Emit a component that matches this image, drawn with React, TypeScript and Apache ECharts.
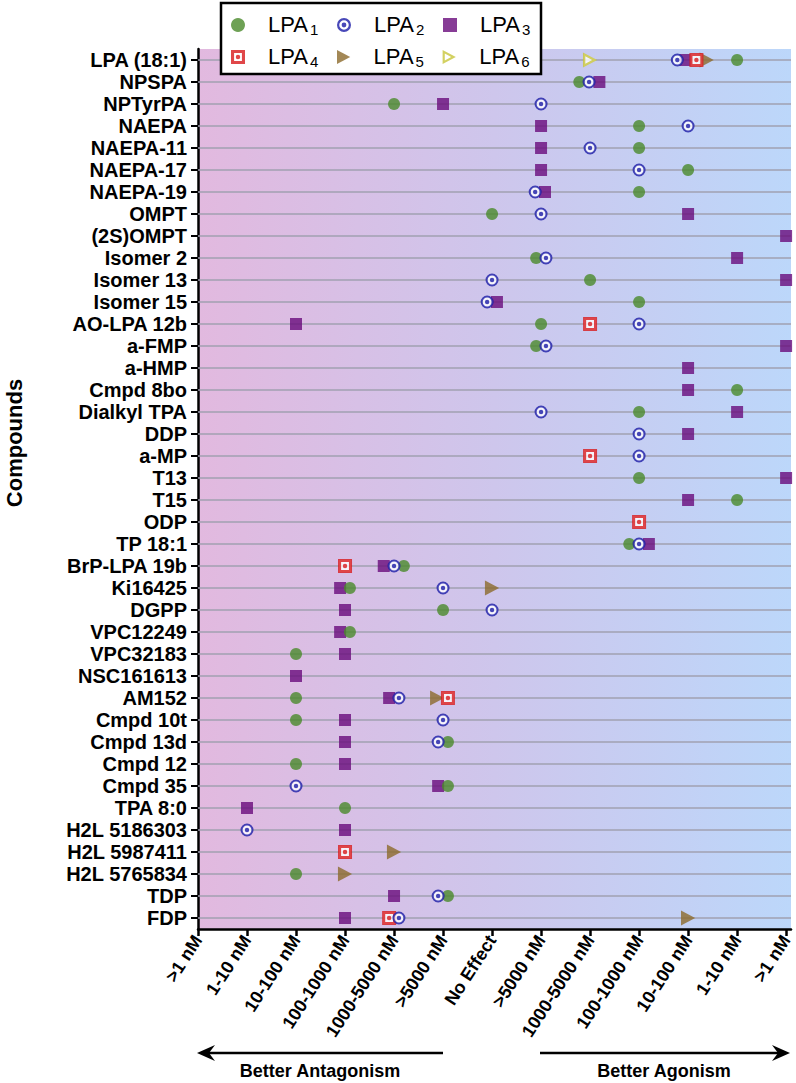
import React, { useEffect, useRef } from "react";
import * as echarts from "echarts";

const compounds = [
  "LPA (18:1)", "NPSPA", "NPTyrPA", "NAEPA", "NAEPA-11", "NAEPA-17", "NAEPA-19", "OMPT",
  "(2S)OMPT", "Isomer 2", "Isomer 13", "Isomer 15", "AO-LPA 12b", "a-FMP", "a-HMP", "Cmpd 8bo",
  "Dialkyl TPA", "DDP", "a-MP", "T13", "T15", "ODP", "TP 18:1", "BrP-LPA 19b", "Ki16425", "DGPP",
  "VPC12249", "VPC32183", "NSC161613", "AM152", "Cmpd 10t", "Cmpd 13d", "Cmpd 12", "Cmpd 35",
  "TPA 8:0", "H2L 5186303", "H2L 5987411", "H2L 5765834", "TDP", "FDP",
];

const xLabels = [
  ">1 nM", "1-10 nM", "10-100 nM", "100-1000 nM", "1000-5000 nM", ">5000 nM", "No Effect",
  ">5000 nM", "1000-5000 nM", "100-1000 nM", "10-100 nM", "1-10 nM", ">1 nM",
];

// [compound, position on the activity scale]
const lpa1: [string, number][] = [
  ["LPA (18:1)", 11], ["NPSPA", 7.78], ["NPTyrPA", 4], ["NAEPA", 9], ["NAEPA-11", 9], ["NAEPA-17", 10],
  ["NAEPA-19", 9], ["OMPT", 6], ["Isomer 2", 6.9], ["Isomer 13", 8], ["Isomer 15", 9], ["AO-LPA 12b", 7],
  ["a-FMP", 6.9], ["Cmpd 8bo", 11], ["Dialkyl TPA", 9], ["T13", 9], ["T15", 11], ["TP 18:1", 8.8],
  ["BrP-LPA 19b", 4.2], ["Ki16425", 3.1], ["DGPP", 5], ["VPC12249", 3.1], ["VPC32183", 2], ["AM152", 2],
  ["Cmpd 10t", 2], ["Cmpd 13d", 5.1], ["Cmpd 12", 2], ["Cmpd 35", 5.1], ["TPA 8:0", 3], ["H2L 5765834", 2],
  ["TDP", 5.1],
];
const lpa2: [string, number][] = [
  ["LPA (18:1)", 9.78], ["NPSPA", 7.98], ["NPTyrPA", 7], ["NAEPA", 10], ["NAEPA-11", 8], ["NAEPA-17", 9],
  ["NAEPA-19", 6.88], ["OMPT", 7], ["Isomer 2", 7.1], ["Isomer 13", 6], ["Isomer 15", 5.9], ["AO-LPA 12b", 9],
  ["a-FMP", 7.1], ["Dialkyl TPA", 7], ["DDP", 9], ["a-MP", 9], ["TP 18:1", 9], ["BrP-LPA 19b", 4],
  ["Ki16425", 5], ["DGPP", 6], ["AM152", 4.1], ["Cmpd 10t", 5], ["Cmpd 13d", 4.9], ["Cmpd 35", 2],
  ["H2L 5186303", 1], ["TDP", 4.9], ["FDP", 4.1],
];
const lpa3: [string, number][] = [
  ["LPA (18:1)", 9.95], ["NPSPA", 8.19], ["NPTyrPA", 5], ["NAEPA", 7], ["NAEPA-11", 7], ["NAEPA-17", 7],
  ["NAEPA-19", 7.08], ["OMPT", 10], ["(2S)OMPT", 12], ["Isomer 2", 11], ["Isomer 13", 12], ["Isomer 15", 6.1],
  ["AO-LPA 12b", 2], ["a-FMP", 12], ["a-HMP", 10], ["Cmpd 8bo", 10], ["Dialkyl TPA", 11], ["DDP", 10],
  ["T13", 12], ["T15", 10], ["TP 18:1", 9.2], ["BrP-LPA 19b", 3.79], ["Ki16425", 2.9], ["DGPP", 3],
  ["VPC12249", 2.9], ["VPC32183", 3], ["NSC161613", 2], ["AM152", 3.9], ["Cmpd 10t", 3], ["Cmpd 13d", 3],
  ["Cmpd 12", 3], ["Cmpd 35", 4.9], ["TPA 8:0", 1], ["H2L 5186303", 3], ["TDP", 4], ["FDP", 3],
];
const lpa4: [string, number][] = [
  ["LPA (18:1)", 10.17], ["AO-LPA 12b", 8], ["a-MP", 8], ["ODP", 9], ["BrP-LPA 19b", 3], ["AM152", 5.1],
  ["H2L 5987411", 3], ["FDP", 3.9],
];
const lpa5: [string, number][] = [
  ["LPA (18:1)", 10.38], ["Ki16425", 6], ["AM152", 4.88], ["H2L 5987411", 4], ["H2L 5765834", 3], ["FDP", 10],
];
const lpa6: [string, number][] = [["LPA (18:1)", 8]];

const tickValues = [0, 1, 2, 3, 4, 5, 6, 7, 8, 9, 10, 11, 12];
const X_MAX = 12.1;

const FONT = '"Liberation Sans", Arial, Helvetica, sans-serif';
const GREEN = "#4a8a2b";
const BLUE = "#1a1aa6";
const PURPLE = "#690b7c";
const RED = "#d8191c";
const BROWN = "#8c6a2c";
const YELLOW = "#c8c53a";

const RING =
  "path://M50,0 A50,50 0 1,1 50,100 A50,50 0 1,1 50,0 Z M50,16 A34,34 0 1,0 50,84 A34,34 0 1,0 50,16 Z M50,33 A17,17 0 1,1 50,67 A17,17 0 1,1 50,33 Z";
const SQRING =
  "path://M0,0 L100,0 L100,100 L0,100 Z M22,22 L22,78 L78,78 L78,22 Z M50,34 A16,16 0 1,1 50,66 A16,16 0 1,1 50,34 Z";
const TRI = "path://M10,5 L95,50 L10,95 Z";
const HOLLOW_TRI = "path://M10,5 L95,50 L10,95 Z M24,28 L24,72 L65,50 Z";

const toData = (arr: [string, number][]) => arr.map(([c, v]) => [v, c]);

export default function App() {
  const ref = useRef<HTMLDivElement>(null);
  useEffect(() => {
    if (!ref.current) return;
    const chart = echarts.init(ref.current, null, { renderer: "svg" });

    const legendCommon = {
      left: 231,
      orient: "horizontal",
      padding: 0,
      itemGap: 17,
      itemWidth: 14,
      itemHeight: 14,
      selectedMode: false,
      z: 10,
      formatter: (name: string) => `{sp|}{a|LPA}{s|${name.replace("LPA", "")}}`,
      textStyle: {
        color: "#000",
        fontFamily: FONT,
        rich: {
          sp: { width: 18, lineHeight: 24 },
          a: { fontSize: 22, lineHeight: 20, verticalAlign: "top", width: 42, fontFamily: FONT, color: "#000" },
          s: { fontSize: 15, lineHeight: 14, verticalAlign: "bottom", width: 10, fontFamily: FONT, color: "#000" },
        },
      },
    };

    const option: any = {
      animation: false,
      textStyle: { fontFamily: FONT },
      grid: {
        left: 198,
        right: 5,
        top: 49,
        height: 880,
        show: true,
        borderWidth: 0,
        backgroundColor: new echarts.graphic.LinearGradient(0, 0, 1, 0, [
          { offset: 0, color: "#e2b9df" },
          { offset: 0.5, color: "#cec6ec" },
          { offset: 1, color: "#bcd7fa" },
        ]),
      },
      legend: [
        { ...legendCommon, top: 13, data: ["LPA1", "LPA2", "LPA3"] },
        { ...legendCommon, top: 45, data: ["LPA4", "LPA5", "LPA6"] },
      ],
      xAxis: {
        type: "value",
        min: 0,
        max: X_MAX,
        interval: 1,
        axisLine: { show: true, lineStyle: { color: "#000", width: 2.5 } },
        axisTick: { show: true, length: 7, customValues: tickValues, lineStyle: { color: "#000", width: 2.5 } },
        axisLabel: {
          customValues: tickValues,
          rotate: 57,
          margin: 8,
          formatter: (v: number) => xLabels[Math.round(v)] ?? "",
          fontWeight: "bold",
          fontSize: 18,
          color: "#000",
          fontFamily: FONT,
        },
        splitLine: { show: false },
      },
      yAxis: {
        type: "category",
        data: compounds,
        inverse: true,
        axisLine: { show: true, lineStyle: { color: "#000", width: 2.5 } },
        axisTick: { show: true, alignWithLabel: true, length: 7, lineStyle: { color: "#000", width: 2 } },
        axisLabel: { interval: 0, margin: 11, fontWeight: "bold", fontSize: 20, color: "#000", fontFamily: FONT },
        splitLine: { show: false },
      },
      graphic: [
        {
          type: "rect",
          z: 8,
          shape: { x: 221, y: 3, width: 320, height: 71 },
          style: { fill: "#fff", stroke: "#000", lineWidth: 2.5 },
        },
        {
          type: "text",
          x: 14,
          y: 443,
          rotation: Math.PI / 2,
          style: { text: "Compounds", font: `bold 22px ${FONT}`, fill: "#000", align: "center", verticalAlign: "middle" },
        },
        { type: "line", shape: { x1: 206, y1: 1053, x2: 443, y2: 1053 }, style: { stroke: "#000", lineWidth: 2.5 } },
        { type: "polygon", shape: { points: [[197, 1053], [215, 1045], [209, 1053], [215, 1061]] }, style: { fill: "#000" } },
        { type: "line", shape: { x1: 540, y1: 1053, x2: 781, y2: 1053 }, style: { stroke: "#000", lineWidth: 2.5 } },
        { type: "polygon", shape: { points: [[790, 1053], [772, 1045], [778, 1053], [772, 1061]] }, style: { fill: "#000" } },
        {
          type: "text",
          x: 320,
          y: 1071,
          style: { text: "Better Antagonism", font: `bold 18px ${FONT}`, fill: "#000", align: "center", verticalAlign: "middle" },
        },
        {
          type: "text",
          x: 664,
          y: 1071,
          style: { text: "Better Agonism", font: `bold 18px ${FONT}`, fill: "#000", align: "center", verticalAlign: "middle" },
        },
      ],
      series: [
        {
          type: "custom",
          silent: true,
          z: 1,
          encode: { x: 0, y: 1 },
          data: compounds.map((c, i) => [0, i]),
          renderItem: (params: any, api: any) => {
            const y = api.value(1);
            const a = api.coord([0, y]);
            const b = api.coord([X_MAX, y]);
            return {
              type: "line",
              shape: { x1: a[0], y1: a[1], x2: b[0], y2: b[1] },
              style: { stroke: "#a0a0b0", lineWidth: 1.5 },
            };
          },
        },
        {
          name: "LPA5",
          type: "scatter",
          z: 2,
          symbol: TRI,
          symbolKeepAspect: true,
          symbolSize: 15,
          itemStyle: { color: BROWN },
          data: toData(lpa5),
        },
        {
          name: "LPA3",
          type: "scatter",
          z: 2,
          symbol: "rect",
          symbolSize: 12,
          itemStyle: { color: PURPLE },
          data: toData(lpa3),
        },
        {
          name: "LPA1",
          type: "scatter",
          z: 2,
          symbol: "circle",
          symbolSize: 12,
          itemStyle: { color: GREEN },
          data: toData(lpa1),
        },
        {
          name: "LPA6 background",
          type: "scatter",
          z: 2,
          silent: true,
          symbol: TRI,
          symbolKeepAspect: true,
          symbolSize: 13,
          itemStyle: { color: "#fff" },
          data: toData(lpa6),
        },
        {
          name: "LPA6",
          type: "scatter",
          z: 2,
          symbol: HOLLOW_TRI,
          symbolKeepAspect: true,
          symbolSize: 15,
          itemStyle: { color: YELLOW },
          data: toData(lpa6),
        },
        {
          name: "LPA4 background",
          type: "scatter",
          z: 2,
          silent: true,
          symbol: "rect",
          symbolSize: 12,
          itemStyle: { color: "#fff" },
          data: toData(lpa4),
        },
        {
          name: "LPA4",
          type: "scatter",
          z: 2,
          symbol: SQRING,
          symbolKeepAspect: true,
          symbolSize: 14,
          itemStyle: { color: RED },
          data: toData(lpa4),
        },
        {
          name: "LPA2 background",
          type: "scatter",
          z: 2,
          silent: true,
          symbol: "circle",
          symbolSize: 11,
          itemStyle: { color: "#fff" },
          data: toData(lpa2),
        },
        {
          name: "LPA2",
          type: "scatter",
          z: 2,
          symbol: RING,
          symbolKeepAspect: true,
          symbolSize: 13,
          itemStyle: { color: BLUE },
          data: toData(lpa2),
        },
      ],
    };

    chart.setOption(option);
    return () => chart.dispose();
  }, []);

  return <div ref={ref} style={{ width: 796, height: 1083, position: "absolute", left: 0, top: 0 }} />;
}
